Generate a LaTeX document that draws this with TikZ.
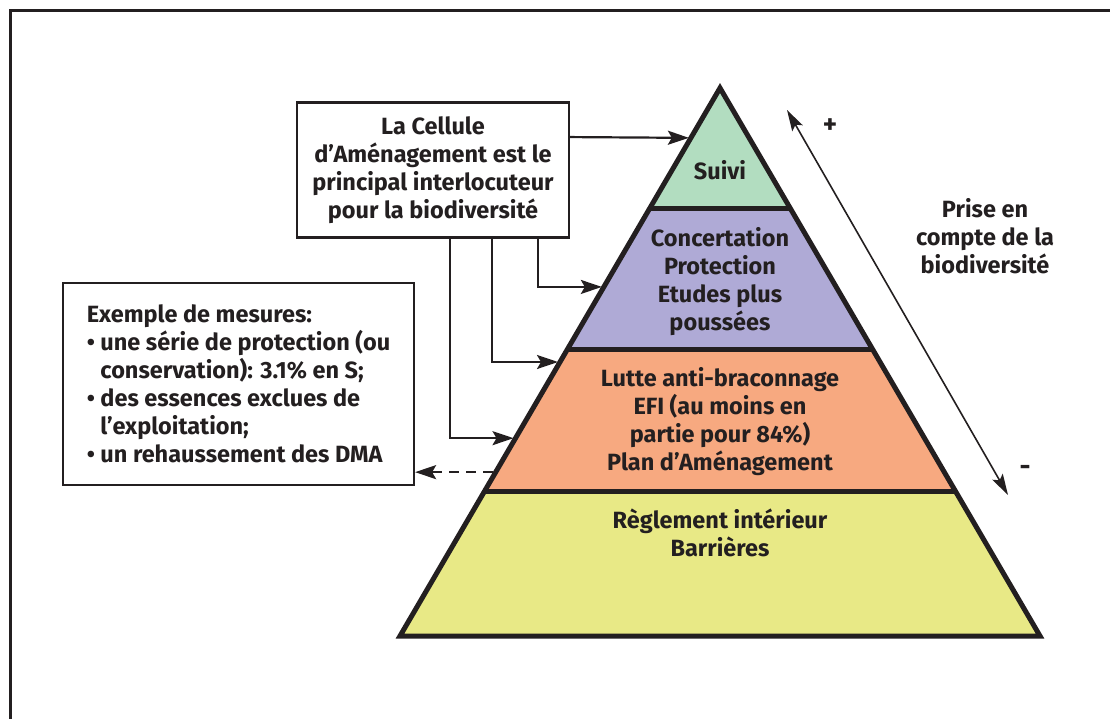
\documentclass[tikz,border=0pt]{standalone}
\usepackage{fontspec}
\setmainfont{Fira Sans}
\usetikzlibrary{calc, arrows.meta}

\definecolor{ink}{HTML}{231F20}
\definecolor{suivigreen}{HTML}{B2DDC0}
\definecolor{concertpurple}{HTML}{AFAAD6}
\definecolor{lutteorange}{HTML}{F7A980}
\definecolor{reglementyellow}{HTML}{E8E986}

\begin{document}
\begin{tikzpicture}[x=1pt, y=-1pt,
		txt/.style={font=\bfseries\fontsize{23.5}{28}\selectfont, text=ink, align=center},
		box/.style={txt, draw=ink, line width=2.2pt, fill=white},
		link/.style={draw=ink, line width=2.2pt, -{Stealth[length=21pt, width=14pt, inset=4pt]}}]
		\useasboundingbox (0,0) rectangle (1110,719);
		\def\tA{0.219}
		\def\tB{0.478}
		\def\tC{0.737}
		
		\coordinate (apex) at (720,88);
		\coordinate (base left) at (400,636);
		\coordinate (base right) at (1040,636);
		\coordinate (cut1 left) at ($ (apex)!\tA!(base left) $);
		\coordinate (cut1 right) at ($ (apex)!\tA!(base right) $);
		\coordinate (cut2 left) at ($ (apex)!\tB!(base left) $);
		\coordinate (cut2 right) at ($ (apex)!\tB!(base right) $);
		\coordinate (cut3 left) at ($ (apex)!\tC!(base left) $);
		\coordinate (cut3 right) at ($ (apex)!\tC!(base right) $);
		
		% frame
		\draw [ink, line width=3pt] (10,719) -- (10,11) -- (1110,11);
		
		% pyramid layers
		\fill [suivigreen] (apex) -- (cut1 right) -- (cut1 left) -- cycle;
		\fill [concertpurple] (cut1 left) -- (cut1 right) -- (cut2 right) -- (cut2 left) -- cycle;
		\fill [lutteorange] (cut2 left) -- (cut2 right) -- (cut3 right) -- (cut3 left) -- cycle;
		\fill [reglementyellow] (cut3 left) -- (cut3 right) -- (base right) -- (base left) -- cycle;
		\draw [ink, line width=5pt] (cut1 left) -- (cut1 right);
		\draw [ink, line width=5pt] (cut2 left) -- (cut2 right);
		\draw [ink, line width=5pt] (cut3 left) -- (cut3 right);
		\draw [ink, line width=5pt, line join=miter] (apex) -- (base right) -- (base left) -- cycle;
		
		\node [txt] (suivi) at (720,170) {Suivi};
		\node [txt] (concertation) at (720,282) {Concertation\\Protection\\Etudes plus\\poussées};
		\node [txt] (lutte) at (720,422) {Lutte anti-braconnage\\EFI (au moins en\\partie pour 84\%)\\Plan d’Aménagement};
		\node [txt] (reglement) at (720,533) {Règlement intérieur\\Barrières};
		
		% boxes
		\node [box, minimum width=272, minimum height=135] (cellule) at (433,170) {La Cellule\\d’Aménagement est le\\principal interlocuteur\\pour la biodiversité};
		\node [box, align=left, minimum width=351, minimum height=202] (mesures) at (238.5,384) {Exemple de mesures:\\\textbullet\ une série de protection (ou\\\hphantom{\textbullet\ }conservation): 3.1\% en S;\\\textbullet\ des essences exclues de\\\hphantom{\textbullet\ }l’exploitation;\\\textbullet\ un rehaussement des DMA};
		
		% arrows into the pyramid
		\coordinate (suivi in) at ($ (apex)!0.091!(base left) + (-2,0) $);
		\coordinate (concertation in) at ($ (apex)!0.363!(base left) + (-2,0) $);
		\coordinate (lutte in) at ($ (apex)!0.5!(base left) + (-2,0) $);
		\coordinate (lutte low in) at ($ (apex)!0.639!(base left) + (-2,0) $);
		\coordinate (lutte out) at ($ (apex)!0.701!(base left) + (-3,0) $);
		
		\draw [link] ($ (cellule.north east)!0.26!(cellule.south east) $) -- (suivi in);
		\draw [link] ($ (cellule.south) + (105,0) $) |- (concertation in);
		\draw [link] ($ (cellule.south) + (59,0) $) |- (lutte in);
		\draw [link] ($ (cellule.south) + (17,0) $) |- (lutte low in);
		\draw [link, dashed, dash pattern=on 10pt off 7pt] (lutte out) -- (lutte out -| mesures.east);
		
		% biodiversity scale
		\coordinate (scale top) at (787,110);
		\coordinate (scale bottom) at (1008,495);
		\draw [ink, line width=1.6pt, {Stealth[length=21pt, width=12pt, inset=4pt]}-{Stealth[length=21pt, width=12pt, inset=4pt]}] (scale top) -- (scale bottom);
		\node [txt, font=\bfseries\fontsize{27}{28}\selectfont] (plus) at (830,126) {+};
		\node [txt, font=\bfseries\fontsize{27}{28}\selectfont] (minus) at (1025,470) {-};
		\node [txt] (prise) at (985,236) {Prise en\\compte de la\\biodiversité};
	\end{tikzpicture}
\end{document}
